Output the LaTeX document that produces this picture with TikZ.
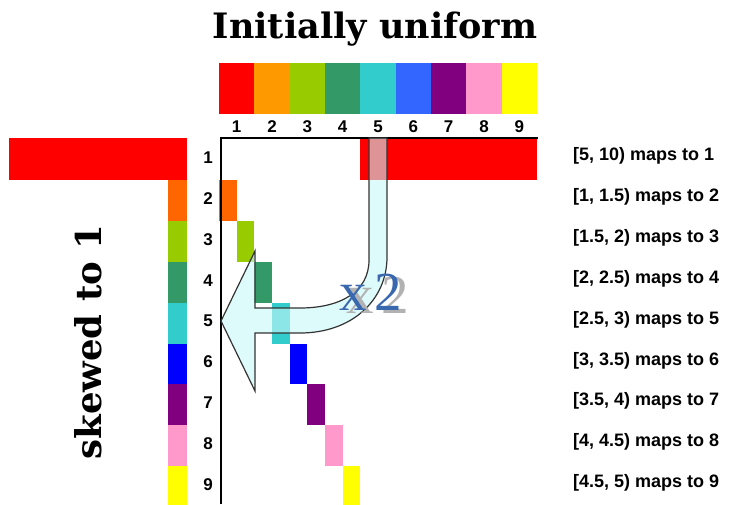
\documentclass[tikz,border=0pt]{standalone}
\usepackage{fontspec}
\setmainfont{Liberation Serif}
\newfontfamily\lsans{Liberation Sans}
\newfontfamily\dvserif{DejaVu Serif}
\definecolor{k1}{HTML}{FF0000}
\definecolor{k2}{HTML}{FF9900}
\definecolor{k2b}{HTML}{FF6600}
\definecolor{k3}{HTML}{99CC00}
\definecolor{k4}{HTML}{339966}
\definecolor{k5}{HTML}{33CCCC}
\definecolor{k6}{HTML}{3366FF}
\definecolor{k6b}{HTML}{0000FF}
\definecolor{k7}{HTML}{800080}
\definecolor{k8}{HTML}{FF99CC}
\definecolor{k9}{HTML}{FFFF00}
\definecolor{arrowfill}{RGB}{200,248,250}
\definecolor{xblue}{HTML}{3A68AE}
\begin{document}
\begin{tikzpicture}[x=1pt,y=-1pt,
  numlbl/.style={font=\lsans\bfseries\fontsize{17}{17}\selectfont, inner sep=0pt},
  maplbl/.style={font=\lsans\bfseries\fontsize{18}{18}\selectfont, inner sep=0pt, anchor=west},
  axisline/.style={line width=1.5pt, black},
  bigarrow/.style={draw=black!80, line width=1.2pt, fill=arrowfill, fill opacity=0.6, line join=miter}]
\useasboundingbox (0,0) rectangle (730,504);
% title
\node[font=\dvserif\bfseries\fontsize{35}{35}\selectfont, inner sep=0pt] (title) at (375,29) {Initially uniform};
% top colour bar
\foreach \c [count=\i] in {k1,k2,k3,k4,k5,k6,k7,k8,k9} {
  \fill[\c] ({219+(\i-1)*35.33},63) rectangle ++(35.33,51);
  \node[numlbl] (col\i) at ({219+(\i-0.5)*35.33},127) {\i};
}
% row 1
\fill[k1] (9,138) rectangle (187,180.3);
\fill[k1] (360,139) rectangle (537,180.3);
\node[numlbl] (row1) at (208,157.5) {1};
\node[maplbl] (map1) at (573,156) {[5, 10) maps to 1};
% rows 2..9
\foreach \c/\t [count=\j] in {k2b/{[1, 1.5)},k3/{[1.5, 2)},k4/{[2, 2.5)},k5/{[2.5, 3)},k6b/{[3, 3.5)},k7/{[3.5, 4)},k8/{[4, 4.5)},k9/{[4.5, 5)}} {
  \pgfmathsetmacro{\k}{int(\j+1)}
  \pgfmathsetmacro{\ytop}{139.5+\j*40.8}
  \fill[\c] (168,\ytop) rectangle (187,\ytop+40.8);
  \fill[\c] ({219+(\j-1)*17.67},\ytop) rectangle ++(17.67,40.8);
  \node[numlbl] (row\k) at (208,\ytop+18.5) {\k};
  \node[maplbl] (map\k) at (573,\ytop+17) {\t\ maps to \k};
}
% axes
\draw[axisline] (221,504) -- (221,138) -- (538,138);
% big U-shaped arrow
\path[bigarrow] (369,138) -- (369,260)
  .. controls (369,292) and (340,308) .. (300,308)
  -- (255,308) -- (255,251) -- (221,321) -- (255,391) -- (255,333) -- (300,333)
  .. controls (352,333) and (387,300) .. (387,257)
  -- (387,138) -- cycle;
% x2 with shadow
\node[font=\fontsize{55}{55}\selectfont, text=xblue, inner sep=0pt, anchor=base west] (xtwo) at (339,310)
  {\makebox[0pt][l]{\hspace{7pt}\raisebox{-3pt}{\textcolor{black!30}{x\hspace{8pt}2}}}x\hspace{8pt}2};
% skewed to 1
\node[font=\dvserif\bfseries\fontsize{35.5}{35.5}\selectfont, inner sep=0pt, rotate=90] (skew) at (88,342) {skewed to 1};
\end{tikzpicture}
\end{document}
